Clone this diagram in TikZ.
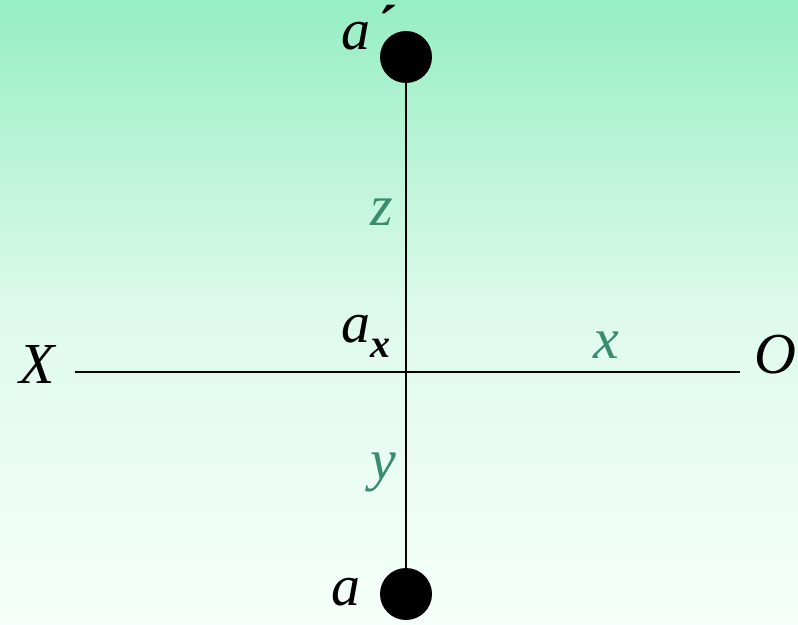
\documentclass[tikz,border=0pt]{standalone}
\usepackage{fontspec}
\setmainfont{Liberation Serif}
\definecolor{bgtop}{RGB}{150,238,196}
\definecolor{bgmid}{RGB}{222,250,236}
\definecolor{bgbot}{RGB}{246,255,251}
\definecolor{axgreen}{RGB}{58,140,110}
\begin{document}
\begin{tikzpicture}[x=1pt,y=-1pt,
  lbl/.style={font=\fontsize{58}{58}\selectfont\itshape, inner sep=0pt, anchor=base},
  glbl/.style={lbl, text=axgreen},
  dot/.style={circle, fill=black, minimum size=52pt, inner sep=0pt},
  ln/.style={line width=2pt, black}]
\useasboundingbox (0,0) rectangle (798,624);
\shade[top color=bgtop, bottom color=bgbot, middle color=bgmid] (0,0) rectangle (798,624);
% axes
\coordinate (xl) at (75,372);
\coordinate (xr) at (740,372);
\node[dot] (ap) at (406,57) {};
\node[dot] (a) at (406,594) {};
\draw[ln] (xl) -- (xr);
\draw[ln] (ap) -- (a);
% labels
\node[lbl] (X) at (37,383) {X};
\node[lbl] (O) at (775,373) {O};
\node[lbl] (apl) at (356,49) {a};
\node[lbl, font=\fontsize{58}{58}\selectfont\bfseries] (pr) at (388,45) {´};
\node[lbl] (ax) at (356,342) {a};
\node[lbl, font=\fontsize{40}{40}\selectfont\itshape\bfseries] (axs) at (380,357) {x};
\node[lbl] (al) at (346,605) {a};
\node[glbl] (xg) at (606,358) {x};
\node[glbl] (zg) at (382,225) {z};
\node[glbl] (yg) at (383,479) {y};
\end{tikzpicture}
\end{document}
